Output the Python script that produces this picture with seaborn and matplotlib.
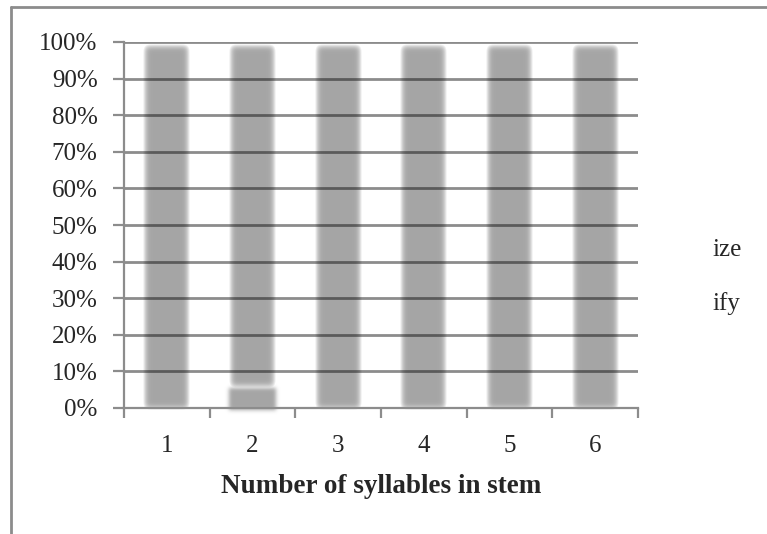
import numpy as np
import pandas as pd
import matplotlib
matplotlib.use("Agg")
import matplotlib.pyplot as plt
import seaborn as sns
from matplotlib.lines import Line2D
from matplotlib.patches import Patch

categories = ["1", "2", "3", "4", "5", "6"]
ize = [0, 6, 0, 0, 0, 0]
ify = [100, 94, 100, 100, 100, 100]
yticks = [0, 10, 20, 30, 40, 50, 60, 70, 80, 90, 100]
ytick_labels = [f"{v}%" for v in yticks]
xlabel = "Number of syllables in stem"
series_names = ["ize", "ify"]

df = pd.DataFrame({"cat": categories, "ize": ize, "ify": ify})

sns.set_style("white")
plt.rcParams["font.family"] = ["Liberation Serif", "DejaVu Serif"]

BAR = "#a6a6a6"
GRID = "#000000"
FS = 18


def _gauss_kernel(sigma):
    r = int(np.ceil(3 * sigma))
    x = np.arange(-r, r + 1)
    k = np.exp(-0.5 * (x / sigma) ** 2)
    return k / k.sum(), r


def soft_edge(sigma=3.5, shift=2, shrink=True):
    k, r = _gauss_kernel(sigma)

    def f(img, dpi):
        pad = r + 4
        a = np.pad(img, ((pad, pad), (pad, pad), (0, 0)))
        alpha = a[..., 3]
        alpha = np.apply_along_axis(lambda m: np.convolve(m, k, mode="same"), 0, alpha)
        alpha = np.apply_along_axis(lambda m: np.convolve(m, k, mode="same"), 1, alpha)
        if shrink:
            alpha = np.clip(2 * alpha - 1, 0, 1)
        out = a.copy()
        rgb = img[..., :3][img[..., 3] > 0]
        col = rgb.mean(axis=0) if rgb.size else np.array([0.65, 0.65, 0.65])
        out[..., 0] = col[0]
        out[..., 1] = col[1]
        out[..., 2] = col[2]
        out[..., 3] = alpha
        return out, -pad, -pad - shift

    return f


fig = plt.figure(figsize=(7.67, 5.34), dpi=100)
ax = fig.add_axes([124 / 767, 1 - 408 / 534, (638 - 124) / 767, (408 - 42) / 534])

sns.barplot(data=df, x="cat", y="ify", color=BAR, saturation=1, width=0.55,
            ax=ax, label=series_names[1], linewidth=0, bottom=np.array(ize))
n_ify = len(ax.patches)
sns.barplot(data=df, x="cat", y="ize", color=BAR, saturation=1, width=0.55,
            ax=ax, label=series_names[0], linewidth=0)

for i, p in enumerate(ax.patches):
    if i < n_ify:
        p.set_agg_filter(soft_edge())
    else:
        p.set_agg_filter(soft_edge(sigma=2.0, shrink=False))
    p.set_clip_on(False)
    p.set_zorder(1)

ax.set_ylim(0, 100)
ax.set_xlim(-0.5, len(categories) - 0.5)
ax.set_yticks(yticks)
ax.set_yticklabels(ytick_labels)
ax.set_xticks(range(len(categories)))
ax.set_xticklabels(categories)

for v in yticks[1:]:
    ax.axhline(v, color=GRID, alpha=0.45, lw=2.0, zorder=3)

for s in ["top", "right"]:
    ax.spines[s].set_visible(False)
for s in ["left", "bottom"]:
    ax.spines[s].set_color("#8c8c8c")
    ax.spines[s].set_linewidth(1.6)
    ax.spines[s].set_zorder(4)

ax.tick_params(axis="y", which="major", direction="out", length=8, width=1.6,
               color="#8c8c8c", left=True, labelsize=FS, pad=11)
ax.tick_params(axis="x", which="major", bottom=False, labelsize=FS, pad=16)
ax.set_xticks(np.arange(-0.5, len(categories), 1.0), minor=True)
ax.tick_params(axis="x", which="minor", bottom=True, direction="out", length=7,
               width=1.6, color="#8c8c8c")

ax.set_xlabel(xlabel, fontsize=19.5, fontweight="bold", labelpad=12)
ax.set_ylabel("")

handles = [Patch(facecolor="none", edgecolor="none") for _ in series_names]
leg = ax.legend(handles, series_names, loc="center left",
                bbox_to_anchor=(700 / 767, 1 - 277 / 534), bbox_transform=fig.transFigure,
                frameon=False, fontsize=FS, handlelength=0, handletextpad=0,
                labelspacing=1.25, borderpad=0)

bc = "#8c8c8c"
fig.add_artist(Line2D([10.5 / 767, 10.5 / 767], [0, 1 - 6.5 / 534], transform=fig.transFigure,
                      color=bc, lw=2))
fig.add_artist(Line2D([10.5 / 767, 1], [1 - 6.5 / 534, 1 - 6.5 / 534], transform=fig.transFigure,
                      color=bc, lw=2))

fig.savefig("out.png", dpi=100)
